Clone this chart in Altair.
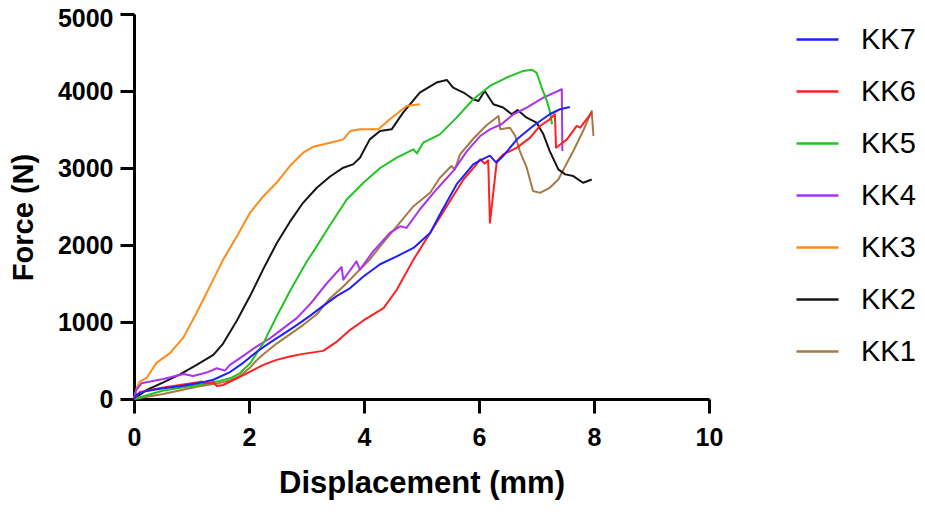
import altair as alt
import pandas as pd

names = ["KK7", "KK6", "KK5", "KK4", "KK3", "KK2", "KK1"]
colors = ["#2020ff", "#ff2020", "#22c322", "#aa33ee", "#ff8c1a", "#151515", "#a57a45"]

kk7_x = [0, 0.05, 0.22, 0.51, 0.80, 1.09, 1.38, 1.67, 1.90, 2.13, 2.37, 2.60, 2.83, 3.06, 3.29, 3.53, 3.76, 3.99, 4.28, 4.57, 4.86, 5.15, 5.32, 5.61, 5.90, 6.02, 6.19, 6.30, 6.42, 6.66, 6.94, 7.23, 7.41, 7.58]
kk7_y = [0, 60, 105, 139, 165, 200, 250, 350, 470, 610, 735, 845, 960, 1080, 1210, 1340, 1440, 1590, 1750, 1853, 1962, 2157, 2396, 2786, 3047, 3100, 3160, 3069, 3155, 3372, 3546, 3698, 3763, 3793]

kk6_x = [0, 0.10, 0.51, 0.86, 1.19, 1.22, 1.38, 1.44, 1.55, 1.79, 2.02, 2.25, 2.48, 2.71, 2.94, 3.29, 3.53, 3.76, 3.99, 4.34, 4.57, 4.86, 5.15, 5.44, 5.73, 5.96, 6.02, 6.10, 6.16, 6.19, 6.31, 6.42, 6.66, 6.89, 7.06, 7.23, 7.32, 7.34, 7.53, 7.70, 7.76, 7.87, 7.96]
kk6_y = [0, 90, 150, 190, 226, 200, 215, 169, 182, 269, 356, 443, 508, 551, 586, 625, 746, 898, 1020, 1181, 1419, 1810, 2157, 2504, 2851, 3050, 3112, 3060, 3099, 2290, 3090, 3177, 3264, 3394, 3546, 3632, 3698, 3264, 3372, 3546, 3524, 3632, 3720]

kk5_x = [0, 0.51, 1.09, 1.44, 1.67, 1.84, 2.02, 2.25, 2.48, 2.71, 3.00, 3.15, 3.41, 3.70, 3.99, 4.28, 4.57, 4.86, 4.92, 5.03, 5.32, 5.61, 5.90, 6.19, 6.48, 6.77, 6.92, 7.00, 7.09, 7.18, 7.23, 7.27]
kk5_y = [0, 110, 180, 226, 269, 334, 465, 725, 1072, 1400, 1780, 1950, 2260, 2591, 2808, 3000, 3134, 3242, 3190, 3329, 3437, 3654, 3893, 4066, 4175, 4261, 4275, 4240, 4045, 3871, 3741, 3568]

kk4_x = [0, 0.04, 0.13, 0.51, 0.86, 1.03, 1.26, 1.44, 1.58, 1.67, 1.90, 2.13, 2.37, 2.60, 2.83, 3.06, 3.35, 3.61, 3.64, 3.87, 3.93, 4.16, 4.45, 4.63, 4.74, 4.97, 5.26, 5.55, 5.79, 6.02, 6.19, 6.39, 6.60, 6.83, 7.12, 7.44, 7.45]
kk4_y = [0, 120, 204, 260, 325, 299, 343, 399, 369, 443, 560, 681, 790, 920, 1050, 1230, 1500, 1714, 1549, 1788, 1680, 1918, 2157, 2243, 2222, 2461, 2721, 2960, 3220, 3415, 3502, 3568, 3698, 3785, 3915, 4023, 3220]

kk3_x = [0, 0.05, 0.10, 0.22, 0.39, 0.63, 0.86, 1.09, 1.32, 1.55, 1.79, 2.02, 2.25, 2.48, 2.71, 2.94, 3.12, 3.41, 3.64, 3.76, 3.93, 4.25, 4.45, 4.74, 4.97]
kk3_y = [0, 150, 225, 273, 469, 599, 800, 1120, 1462, 1810, 2113, 2421, 2634, 2808, 3025, 3199, 3277, 3329, 3372, 3480, 3502, 3502, 3632, 3806, 3828]

kk2_x = [0, 0.22, 0.51, 0.80, 1.09, 1.38, 1.55, 1.79, 2.02, 2.25, 2.48, 2.71, 2.94, 3.18, 3.41, 3.64, 3.81, 3.93, 4.10, 4.28, 4.48, 4.68, 4.97, 5.26, 5.44, 5.55, 5.73, 5.90, 5.99, 6.10, 6.25, 6.42, 6.57, 6.67, 6.83, 7.00, 7.12, 7.23, 7.38, 7.50, 7.64, 7.81, 7.96]
kk2_y = [0, 117, 215, 320, 443, 573, 720, 1020, 1340, 1690, 2020, 2300, 2548, 2743, 2890, 3004, 3047, 3134, 3372, 3480, 3502, 3720, 3980, 4110, 4144, 4045, 3980, 3893, 3871, 4001, 3828, 3785, 3698, 3754, 3654, 3590, 3437, 3220, 2982, 2917, 2895, 2808, 2851]

kk1_x = [0, 0.51, 1.09, 1.44, 1.67, 1.84, 2.02, 2.13, 2.25, 2.48, 2.71, 2.94, 3.18, 3.41, 3.64, 3.87, 4.10, 4.28, 4.57, 4.86, 5.15, 5.32, 5.52, 5.58, 5.67, 5.90, 6.13, 6.34, 6.37, 6.54, 6.63, 6.71, 6.83, 6.94, 7.06, 7.23, 7.38, 7.47, 7.64, 7.81, 7.96, 7.99]
kk1_y = [0, 65, 160, 200, 240, 300, 410, 500, 580, 720, 840, 960, 1100, 1310, 1462, 1636, 1810, 1983, 2243, 2504, 2678, 2873, 3025, 2980, 3177, 3380, 3556, 3676, 3502, 3524, 3415, 3220, 3004, 2700, 2678, 2743, 2851, 2982, 3220, 3480, 3741, 3415]

x_ticks = [0, 2, 4, 6, 8, 10]
y_ticks = [0, 1000, 2000, 3000, 4000, 5000]

series = [("KK1", kk1_x, kk1_y), ("KK2", kk2_x, kk2_y), ("KK3", kk3_x, kk3_y),
          ("KK4", kk4_x, kk4_y), ("KK5", kk5_x, kk5_y), ("KK6", kk6_x, kk6_y),
          ("KK7", kk7_x, kk7_y)]
rows = []
for name, xs, ys in series:
    for i, (xv, yv) in enumerate(zip(xs, ys)):
        rows.append({"Specimen": name, "x": xv, "y": yv, "i": i})
df = pd.DataFrame(rows)

FONT = "Liberation Sans"

chart = alt.Chart(df).mark_line(strokeWidth=2, strokeJoin="round").encode(
    x=alt.X("x:Q", scale=alt.Scale(domain=[0, 10], nice=False, zero=True),
            axis=alt.Axis(values=x_ticks, title="Displacement (mm)", labelPadding=12,
                          format="d", titleY=93, titleBaseline="alphabetic",
                          titleFontSize=31)),
    y=alt.Y("y:Q", scale=alt.Scale(domain=[0, 5000], nice=False, zero=True),
            axis=alt.Axis(values=y_ticks, title="Force (N)", labelPadding=7, format="d",
                          labelOffset=alt.condition("datum.value == 5000", alt.value(4), alt.value(0)),
                          titleX=-111, titleY=203, titleAngle=270,
                          titleAlign="center", titleBaseline="middle")),
    color=alt.Color("Specimen:N", scale=alt.Scale(domain=names, range=colors),
                    legend=alt.Legend(orient="none", legendX=661, legendY=3, title=None,
                                      symbolType="stroke", symbolSize=1764,
                                      symbolStrokeWidth=2.5, labelFontSize=29,
                                      labelFont=FONT, labelColor="black",
                                      labelOffset=21, rowPadding=14, padding=0)),
    order="i:Q",
).properties(
    width=575, height=385,
    autosize=alt.AutoSizeParams(type="none"),
    padding={"left": 126, "top": 6, "right": 208, "bottom": 105},
).configure_view(stroke=None).configure_axis(
    grid=False, domainColor="black", domainWidth=3, tickColor="black", tickWidth=3,
    tickSize=14, labelFont=FONT, labelFontSize=25, labelFontWeight="bold",
    labelColor="black", titleFont=FONT, titleFontSize=29, titleFontWeight="bold",
    titleColor="black", labelFlush=False, labelOverlap=False,
)

chart.save("out.html", embed_options={"renderer": "svg", "actions": False})
